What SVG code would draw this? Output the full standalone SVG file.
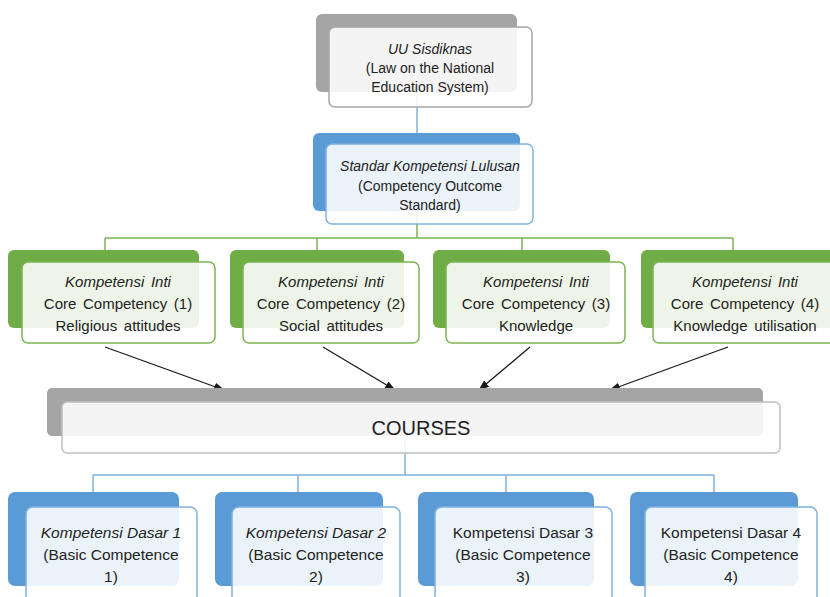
<svg xmlns="http://www.w3.org/2000/svg" width="830" height="597" viewBox="0 0 830 597">
  <style>
    text { font-family: "Liberation Sans", Arial, sans-serif; fill: #222222; text-anchor: middle; }
    .it { font-style: italic; }
    .t14 { font-size: 14px; }
    .t15 { font-size: 15px; word-spacing: 2.5px; }
    .tb { font-size: 15.5px; }
    .back-gray { fill: #a5a5a5; }
    .back-blue { fill: #5b9bd5; }
    .back-green { fill: #70ad47; }
    .front { fill: #ffffff; fill-opacity: 0.88; stroke-width: 1.5; }
    .fg-gray { stroke: #a5a5a5; }
    .fg-blue { stroke: #7fb1e0; }
    .fg-green { stroke: #7bb553; }
    .ln-blue { stroke: #7fb1e0; stroke-width: 1.5; fill: none; }
    .ln-green { stroke: #7bb553; stroke-width: 1.5; fill: none; }
    .arrow { stroke: #1a1a1a; stroke-width: 1.3; fill: none; marker-end: url(#head); }
  </style>
  <defs>
    <marker id="head" markerWidth="11" markerHeight="8" refX="10" refY="4" orient="auto" markerUnits="userSpaceOnUse">
      <path d="M0,0 L11,4 L0,8 Z" fill="#1a1a1a"/>
    </marker>
  </defs>
  <rect width="830" height="597" fill="#ffffff"/>

  <!-- connectors -->
  <g id="connectors">
    <path class="ln-blue" d="M417,92 V133"/>
    <path class="ln-green" d="M417,211 V238 M105,238 H733 M105,238 V250 M317,238 V250 M522,238 V250 M733,238 V250"/>
    <path class="arrow" d="M105,347 L224,390"/>
    <path class="arrow" d="M323,347 L395,390"/>
    <path class="arrow" d="M530,347 L479,390"/>
    <path class="arrow" d="M728,347 L610,390"/>
    <path class="ln-blue" d="M405,437 V475 M93,475 H714 M93,475 V492 M298,475 V492 M506,475 V492 M714,475 V492"/>
  </g>

  <!-- law node -->
  <g id="node-law">
    <rect class="back-gray" x="316" y="14" width="201" height="78" rx="6"/>
    <rect class="front fg-gray" x="329" y="27" width="203" height="80" rx="6"/>
    <text class="t14 it" x="430" y="54">UU Sisdiknas</text>
    <text class="t14" x="430" y="73">(Law on the National</text>
    <text class="t14" x="430" y="92">Education System)</text>
  </g>

  <!-- outcome standard node -->
  <g id="node-standard">
    <rect class="back-blue" x="313" y="133" width="207" height="78" rx="6"/>
    <rect class="front fg-blue" x="326" y="144" width="207" height="80" rx="6"/>
    <text class="t14 it" x="430" y="171">Standar Kompetensi Lulusan</text>
    <text class="t14" x="430" y="191">(Competency Outcome</text>
    <text class="t14" x="430" y="210">Standard)</text>
  </g>

  <!-- core competency nodes -->
  <g id="node-ki1">
    <rect class="back-green" x="8" y="250" width="191" height="78" rx="6"/>
    <rect class="front fg-green" x="22" y="262" width="193" height="81" rx="6"/>
    <text class="t15 it" x="118" y="287">Kompetensi Inti</text>
    <text class="t15" x="118" y="309">Core Competency (1)</text>
    <text class="t15" x="118" y="331">Religious attitudes</text>
  </g>
  <g id="node-ki2">
    <rect class="back-green" x="230" y="250" width="174" height="78" rx="6"/>
    <rect class="front fg-green" x="243" y="262" width="176" height="81" rx="6"/>
    <text class="t15 it" x="331" y="287">Kompetensi Inti</text>
    <text class="t15" x="331" y="309">Core Competency (2)</text>
    <text class="t15" x="331" y="331">Social attitudes</text>
  </g>
  <g id="node-ki3">
    <rect class="back-green" x="433" y="250" width="177" height="78" rx="6"/>
    <rect class="front fg-green" x="446" y="262" width="179" height="81" rx="6"/>
    <text class="t15 it" x="536" y="287">Kompetensi Inti</text>
    <text class="t15" x="536" y="309">Core Competency (3)</text>
    <text class="t15" x="536" y="331">Knowledge</text>
  </g>
  <g id="node-ki4">
    <rect class="back-green" x="641" y="250" width="195" height="78" rx="6"/>
    <rect class="front fg-green" x="653" y="262" width="190" height="81" rx="6"/>
    <text class="t15 it" x="745" y="287">Kompetensi Inti</text>
    <text class="t15" x="745" y="309">Core Competency (4)</text>
    <text class="t15" x="745" y="331">Knowledge utilisation</text>
  </g>

  <!-- courses node -->
  <g id="node-courses">
    <rect class="back-gray" x="47" y="388" width="716" height="48" rx="5"/>
    <rect class="front fg-gray" x="62" y="402" width="718" height="51" rx="5" style="stroke:#bfbfbf"/>
    <text x="421" y="435" style="font-size:20px">COURSES</text>
  </g>

  <!-- basic competence nodes -->
  <g id="node-kd1">
    <rect class="back-blue" x="8" y="492" width="171" height="94" rx="7"/>
    <rect class="front fg-blue" x="26" y="507" width="171" height="100" rx="7"/>
    <text class="tb it" x="111" y="538">Kompetensi Dasar 1</text>
    <text class="tb" x="111" y="560">(Basic Competence</text>
    <text class="tb" x="111" y="582">1)</text>
  </g>
  <g id="node-kd2">
    <rect class="back-blue" x="215" y="492" width="168" height="94" rx="7"/>
    <rect class="front fg-blue" x="232" y="507" width="168" height="100" rx="7"/>
    <text class="tb it" x="316" y="538">Kompetensi Dasar 2</text>
    <text class="tb" x="316" y="560">(Basic Competence</text>
    <text class="tb" x="316" y="582">2)</text>
  </g>
  <g id="node-kd3">
    <rect class="back-blue" x="418" y="492" width="176" height="94" rx="7"/>
    <rect class="front fg-blue" x="435" y="507" width="177" height="100" rx="7"/>
    <text class="tb" x="523" y="538">Kompetensi Dasar 3</text>
    <text class="tb" x="523" y="560">(Basic Competence</text>
    <text class="tb" x="523" y="582">3)</text>
  </g>
  <g id="node-kd4">
    <rect class="back-blue" x="630" y="492" width="168" height="94" rx="7"/>
    <rect class="front fg-blue" x="645" y="507" width="172" height="100" rx="7"/>
    <text class="tb" x="731" y="538">Kompetensi Dasar 4</text>
    <text class="tb" x="731" y="560">(Basic Competence</text>
    <text class="tb" x="731" y="582">4)</text>
  </g>
</svg>
